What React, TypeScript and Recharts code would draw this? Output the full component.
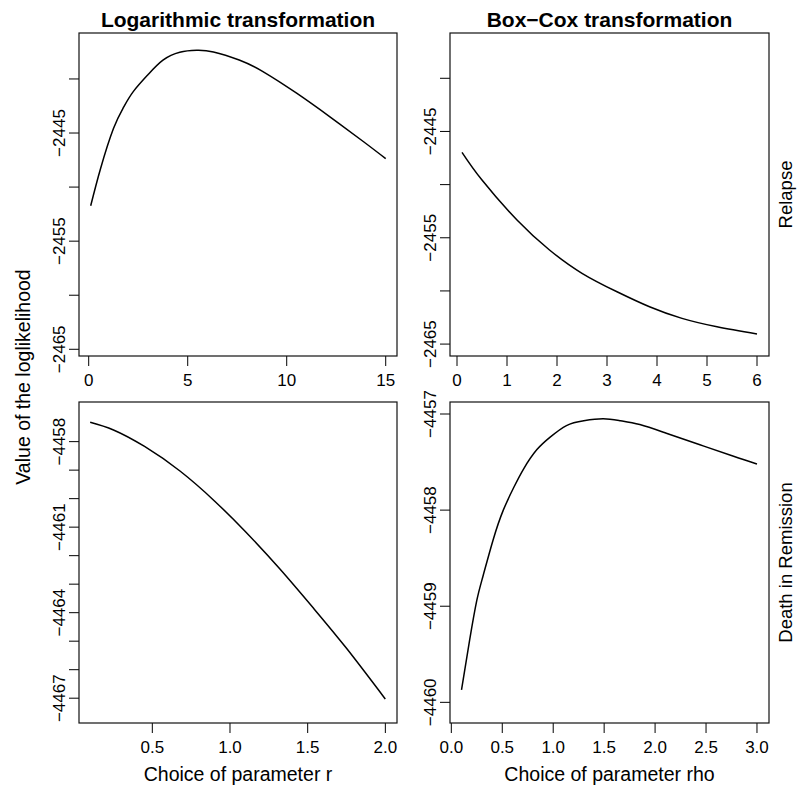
import React from 'react';
import { LineChart, Line, XAxis, YAxis } from 'recharts';

// Relapse, logarithmic transformation (parameter r)
const relLogR = [0.1, 0.6, 1.25, 1.75, 2.25, 3, 3.75, 4.6, 5.45, 6.3, 7.6, 8.8, 10.5, 12.2, 13.9, 15];
const relLogLL = [-2451.73, -2448.28, -2444.59, -2442.65, -2441.17, -2439.59, -2438.26, -2437.53, -2437.35, -2437.5, -2438.25, -2439.32, -2441.32, -2443.53, -2445.83, -2447.37];

// Relapse, Box-Cox transformation (parameter rho)
const relBoxRho = [0.1, 0.5, 1.2, 1.85, 2.5, 3.2, 3.85, 4.5, 5.2, 6];
const relBoxLL = [-2446.96, -2449.57, -2453.33, -2456.15, -2458.34, -2460.08, -2461.49, -2462.58, -2463.37, -2464.05];

// Death in remission, logarithmic transformation
const drLogR = [0.1, 0.25, 0.45, 0.68, 0.9, 1.1, 1.32, 1.54, 1.75, 2.0];
const drLogLL = [-4457.32, -4457.59, -4458.17, -4459.04, -4460.08, -4461.16, -4462.46, -4463.86, -4465.25, -4467.03];

// Death in remission, Box-Cox transformation
const drBoxRho = [0.1, 0.18, 0.25, 0.31, 0.41, 0.51, 0.61, 0.71, 0.84, 0.97, 1.13, 1.3, 1.49, 1.66, 1.85, 2.11, 2.44, 2.77, 3.0];
const drBoxLL = [-4459.87, -4459.35, -4458.94, -4458.69, -4458.31, -4458.0, -4457.77, -4457.57, -4457.37, -4457.24, -4457.12, -4457.07, -4457.05, -4457.07, -4457.11, -4457.2, -4457.32, -4457.44, -4457.52];

// axis ticks
const relXTicksLog = [0, 5, 10, 15];
const relXTicksBox = [0, 1, 2, 3, 4, 5, 6];
const drXTicksLog = [0.5, 1.0, 1.5, 2.0];
const drXTicksBox = [0, 0.5, 1.0, 1.5, 2.0, 2.5, 3.0];
const relYTicks = [-2465, -2460, -2455, -2450, -2445, -2440];
const relYLabels = [-2465, -2455, -2445];
const drYTicksLog = [-4467, -4466, -4465, -4464, -4463, -4462, -4461, -4460, -4459, -4458];
const drYLabelsLog = [-4467, -4464, -4461, -4458];
const drYTicksBox = [-4460, -4459, -4458, -4457];

const FONT = '"Liberation Sans", Arial, Helvetica, sans-serif';
const PAD_TOP = 30;
const PAD_LEFT = 65;

const zip = (xs: number[], ys: number[]) => xs.map((x, i) => ({ x, y: ys[i] }));
const minus = (v: string) => v.replace('-', '\u2212');

type Box = { left: number; top: number; width: number; height: number };

// plot boxes of the four panels (page pixels)
const boxTL: Box = { left: 79, top: 33, width: 318, height: 323 };
const boxTR: Box = { left: 450, top: 33, width: 319, height: 323 };
const boxBL: Box = { left: 79, top: 402, width: 318, height: 321 };
const boxBR: Box = { left: 450, top: 402, width: 319, height: 321 };

type PanelProps = {
  data: { x: number; y: number }[];
  box: Box;
  xDomain: [number, number];
  yDomain: [number, number];
  xTicks: number[];
  xDigits: number;
  yTicks: number[];
  yLabels: number[];
};

const Panel = ({ data, box, xDomain, yDomain, xTicks, xDigits, yTicks, yLabels }: PanelProps) => {
  const XTick = (props: any) => {
    const { x, y, payload } = props;
    return (
      <text x={x} y={y + 18} textAnchor="middle" fontFamily={FONT} fontSize={17} fill="#000">
        {payload.value.toFixed(xDigits)}
      </text>
    );
  };
  const YTick = (props: any) => {
    const { x, y, payload } = props;
    if (!yLabels.includes(payload.value)) return <g />;
    return (
      <text
        x={x - 2}
        y={y}
        transform={`rotate(-90, ${x - 2}, ${y})`}
        textAnchor="middle"
        fontFamily={FONT}
        fontSize={17}
        fill="#000"
      >
        {minus(String(payload.value))}
      </text>
    );
  };
  return (
    <div style={{ position: 'absolute', left: box.left - PAD_LEFT, top: box.top - PAD_TOP }}>
      <LineChart
        width={box.width + PAD_LEFT + 5}
        height={box.height + PAD_TOP + 50}
        data={data}
        margin={{ top: PAD_TOP, right: 5, bottom: 5, left: 5 }}
      >
        <XAxis
          dataKey="x"
          type="number"
          domain={xDomain}
          allowDataOverflow
          ticks={xTicks}
          interval={0}
          height={45}
          axisLine={false}
          tickSize={10}
          tickLine={{ stroke: '#000', strokeWidth: 1 }}
          tick={XTick}
        />
        <YAxis
          type="number"
          domain={yDomain}
          allowDataOverflow
          ticks={yTicks}
          interval={0}
          width={60}
          axisLine={false}
          tickSize={10}
          tickLine={{ stroke: '#000', strokeWidth: 1 }}
          tick={YTick}
        />
        <Line
          type="natural"
          dataKey="y"
          stroke="#000"
          strokeWidth={1.5}
          dot={false}
          isAnimationActive={false}
        />
      </LineChart>
    </div>
  );
};

export default function App() {
  const txt = { fontFamily: FONT, fill: '#000' };
  const frames = [boxTL, boxTR, boxBL, boxBR];
  return (
    <div style={{ position: 'absolute', left: 0, top: 0, width: 798, height: 790, background: '#fff' }}>
      <Panel
        data={zip(relLogR, relLogLL)}
        box={boxTL}
        xDomain={[-0.49, 15.57]}
        yDomain={[-2465.62, -2435.75]}
        xTicks={relXTicksLog}
        xDigits={0}
        yTicks={relYTicks}
        yLabels={relYLabels}
      />
      <Panel
        data={zip(relBoxRho, relBoxLL)}
        box={boxTR}
        xDomain={[-0.14, 6.24]}
        yDomain={[-2466.12, -2435.74]}
        xTicks={relXTicksBox}
        xDigits={0}
        yTicks={relYTicks}
        yLabels={relYLabels}
      />
      <Panel
        data={zip(drLogR, drLogLL)}
        box={boxBL}
        xDomain={[0.028, 2.075]}
        yDomain={[-4467.87, -4456.61]}
        xTicks={drXTicksLog}
        xDigits={1}
        yTicks={drYTicksLog}
        yLabels={drYLabelsLog}
      />
      <Panel
        data={zip(drBoxRho, drBoxLL)}
        box={boxBR}
        xDomain={[-0.013, 3.118]}
        yDomain={[-4460.215, -4456.875]}
        xTicks={drXTicksBox}
        xDigits={1}
        yTicks={drYTicksBox}
        yLabels={drYTicksBox}
      />
      <svg
        width={798}
        height={790}
        style={{ position: 'absolute', left: 0, top: 0, pointerEvents: 'none' }}
      >
        {frames.map((b, i) => (
          <rect key={i} x={b.left} y={b.top} width={b.width} height={b.height} fill="none" stroke="#111" strokeWidth={1.2} />
        ))}
        <text x={238} y={27} textAnchor="middle" fontSize={21} fontWeight="bold" {...txt}>
          Logarithmic transformation
        </text>
        <text x={609.5} y={27} textAnchor="middle" fontSize={21} fontWeight="bold" {...txt}>
          Box−Cox transformation
        </text>
        <text x={238} y={781} textAnchor="middle" fontSize={19.5} {...txt}>
          Choice of parameter r
        </text>
        <text x={609.5} y={781} textAnchor="middle" fontSize={19.5} {...txt}>
          Choice of parameter rho
        </text>
        <text x={30} y={377} transform="rotate(-90, 30, 377)" textAnchor="middle" fontSize={19.5} {...txt}>
          Value of the loglikelihood
        </text>
        <text x={792} y={194.5} transform="rotate(-90, 792, 194.5)" textAnchor="middle" fontSize={18.5} {...txt}>
          Relapse
        </text>
        <text x={792} y={562.5} transform="rotate(-90, 792, 562.5)" textAnchor="middle" fontSize={18.5} {...txt}>
          Death in Remission
        </text>
      </svg>
    </div>
  );
}
